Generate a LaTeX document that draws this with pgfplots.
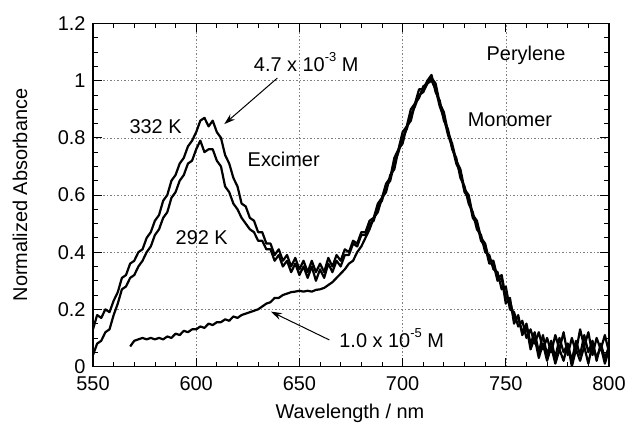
\documentclass[border=0pt]{standalone}
\usepackage{fontspec}
\setmainfont{Liberation Sans}
\usepackage{pgfplots}
\pgfplotsset{compat=1.18}
\usetikzlibrary{arrows.meta}
\newcommand{\supr}[1]{\raisebox{0.48em}{\fontsize{13}{13}\selectfont #1}}
\newcommand{\fs}{\fontsize{20}{24}\selectfont}

\pgfplotstableread{
x y
550 0.13
552 0.18
554 0.17
556 0.20
558 0.19
560 0.23
562 0.26
564 0.31
566 0.32
568 0.36
570 0.37
572 0.40
574 0.41
576 0.45
578 0.47
580 0.51
582 0.53
584 0.58
586 0.60
588 0.65
590 0.67
592 0.71
594 0.73
596 0.77
598 0.79
600 0.82
602 0.86
604 0.87
606 0.84
608 0.86
610 0.82
612 0.80
614 0.74
616 0.71
618 0.66
620 0.63
622 0.57
624 0.56
626 0.52
628 0.51
630 0.47
632 0.47
634 0.43
636 0.43
638 0.39
640 0.41
642 0.37
644 0.39
646 0.35
648 0.38
650 0.34
652 0.37
654 0.33
656 0.37
658 0.33
660 0.36
662 0.33
664 0.38
666 0.35
668 0.39
670 0.37
672 0.41
674 0.40
676 0.44
678 0.43
680 0.47
682 0.47
684 0.51
686 0.52
688 0.57
690 0.59
692 0.64
694 0.66
696 0.73
698 0.76
700 0.82
702 0.84
704 0.90
706 0.92
708 0.97
710 0.97
712 1.00
714 1.02
716 0.96
718 0.93
720 0.86
722 0.83
724 0.76
726 0.73
728 0.66
730 0.63
732 0.57
734 0.54
736 0.48
738 0.46
740 0.40
742 0.39
744 0.34
746 0.33
748 0.27
750 0.28
752 0.20
754 0.19
756 0.14
758 0.16
760 0.10
762 0.13
764 0.08
766 0.12
768 0.06
770 0.10
772 0.05
774 0.11
776 0.06
778 0.12
780 0.04
782 0.10
784 0.05
786 0.13
788 0.07
790 0.12
792 0.04
794 0.10
796 0.06
798 0.11
800 0.05
}\hotdata

\pgfplotstableread{
x y
550 0.04
552 0.08
554 0.09
556 0.12
558 0.13
560 0.18
562 0.22
564 0.27
566 0.28
568 0.31
570 0.32
572 0.35
574 0.37
576 0.40
578 0.42
580 0.46
582 0.48
584 0.52
586 0.54
588 0.59
590 0.61
592 0.65
594 0.67
596 0.71
598 0.72
600 0.76
602 0.79
604 0.75
606 0.76
608 0.76
610 0.72
612 0.70
614 0.63
616 0.61
618 0.57
620 0.55
622 0.52
624 0.50
626 0.48
628 0.47
630 0.44
632 0.44
634 0.41
636 0.41
638 0.37
640 0.39
642 0.35
644 0.37
646 0.33
648 0.36
650 0.32
652 0.35
654 0.31
656 0.35
658 0.30
660 0.34
662 0.31
664 0.36
666 0.33
668 0.37
670 0.35
672 0.39
674 0.39
676 0.43
678 0.42
680 0.46
682 0.46
684 0.50
686 0.51
688 0.56
690 0.58
692 0.63
694 0.65
696 0.71
698 0.75
700 0.80
702 0.83
704 0.88
706 0.91
708 0.95
710 0.96
712 0.99
714 1.00
716 0.97
718 0.91
720 0.87
722 0.81
724 0.77
726 0.71
728 0.68
730 0.61
732 0.59
734 0.52
736 0.50
738 0.44
740 0.42
742 0.36
744 0.36
746 0.30
748 0.31
750 0.22
752 0.24
754 0.15
756 0.18
758 0.11
760 0.14
762 0.06
764 0.10
766 0.03
768 0.08
770 0.02
772 0.07
774 0.01
776 0.06
778 0.02
780 0.08
782 0.00
784 0.06
786 0.02
788 0.07
790 0.01
792 0.08
794 0.03
796 0.07
798 0.01
800 0.06
}\colddata

\pgfplotstableread{
x y
568 0.07
570 0.09
572 0.095
574 0.10
576 0.095
578 0.10
580 0.095
582 0.10
584 0.095
586 0.105
588 0.10
590 0.115
592 0.11
594 0.125
596 0.12
598 0.13
600 0.13
602 0.14
604 0.135
606 0.15
608 0.145
610 0.155
612 0.155
614 0.165
616 0.16
618 0.175
620 0.17
622 0.18
624 0.185
626 0.19
628 0.195
630 0.20
632 0.21
634 0.22
636 0.225
638 0.24
640 0.24
642 0.25
644 0.255
646 0.26
648 0.262
650 0.265
652 0.262
654 0.265
656 0.262
658 0.268
660 0.27
662 0.275
664 0.285
666 0.295
668 0.31
670 0.325
672 0.34
674 0.36
676 0.37
678 0.40
680 0.42
682 0.45
684 0.48
686 0.52
688 0.54
690 0.59
692 0.61
694 0.67
696 0.69
698 0.76
700 0.78
702 0.84
704 0.86
706 0.92
708 0.94
710 0.98
712 0.99
714 1.01
716 0.99
718 0.92
720 0.89
722 0.82
724 0.78
726 0.72
728 0.69
730 0.62
732 0.60
734 0.53
736 0.51
738 0.45
740 0.43
742 0.37
744 0.37
746 0.31
748 0.32
750 0.24
752 0.23
754 0.17
756 0.17
758 0.12
760 0.15
762 0.08
764 0.12
766 0.05
768 0.11
770 0.04
772 0.09
774 0.03
776 0.10
778 0.05
780 0.08
782 0.02
784 0.09
786 0.04
788 0.11
790 0.05
792 0.09
794 0.02
796 0.08
798 0.03
800 0.07
}\dilutedata

\begin{document}
\begin{tikzpicture}
\begin{axis}[
  scale only axis,
  width=516bp, height=343bp,
  xmin=550, xmax=800, ymin=0, ymax=1.2,
  xtick={550,600,...,800},
  ytick={0,0.2,...,1.2},
  minor x tick num=4,
  minor y tick num=3,
  tick align=inside,
  major tick length=9bp,
  minor tick length=5bp,
  tick style={black, line width=0.8bp},
  axis line style={line width=1.2bp},
  grid=major,
  major grid style={gray, line width=0.5bp, dash pattern=on 1.5bp off 2bp},
  tick label style={font=\fs},
  xticklabel style={yshift=-7bp},
  yticklabel style={xshift=-4bp},
  /pgf/number format/assume math mode=true,
  xlabel={Wavelength / nm},
  ylabel={Normalized Absorbance},
  label style={font=\fs},
  xlabel style={at={(axis description cs:0.498,-0.138)}, anchor=center},
  ylabel style={at={(axis description cs:-0.1415,0.5)}, anchor=center},
]
\addplot[black, no marks, line width=2.2bp, line join=round] table {\hotdata};
\addplot[black, no marks, line width=2.2bp, line join=round] table {\colddata};
\addplot[black, no marks, line width=2.2bp, line join=round] table {\dilutedata};

\node[font=\fs] at (axis cs:759.8,1.09) {Perylene};
\node[font=\fs] at (axis cs:653.3,1.065) {4.7 x 10\supr{-3} M};
\node[font=\fs] at (axis cs:580.3,0.838) {332 K};
\node[font=\fs] at (axis cs:642.4,0.723) {Excimer};
\node[font=\fs] at (axis cs:602.7,0.451) {292 K};
\node[font=\fs] at (axis cs:752,0.862) {Monomer};
\node[font=\fs] at (axis cs:694.7,0.099) {1.0 x 10\supr{-5} M};
\draw[line width=1bp, -{Stealth[length=11bp,width=7bp]}] (axis cs:639.3,1.009) -- (axis cs:613.6,0.848);
\draw[line width=1bp, -{Stealth[length=11bp,width=7bp]}] (axis cs:664.5,0.093) -- (axis cs:636.2,0.192);
\end{axis}
\pgfresetboundingbox
\path (-93bp,-58.5bp) rectangle (533bp,366.5bp);
\end{tikzpicture}
\end{document}
